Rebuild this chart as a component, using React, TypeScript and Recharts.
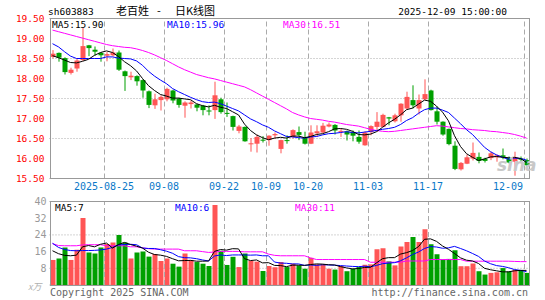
import React from "react";
import { ComposedChart, Bar, Line, XAxis, YAxis, CartesianGrid, ReferenceLine, Cell } from "recharts";

const dates = [
  "2025-08-12","2025-08-13","2025-08-14","2025-08-15","2025-08-18","2025-08-19","2025-08-20","2025-08-21","2025-08-22","2025-08-25",
  "2025-08-26","2025-08-27","2025-08-28","2025-08-29","2025-09-01","2025-09-02","2025-09-03","2025-09-04","2025-09-05","2025-09-08",
  "2025-09-09","2025-09-10","2025-09-11","2025-09-12","2025-09-15","2025-09-16","2025-09-17","2025-09-18","2025-09-19","2025-09-22",
  "2025-09-23","2025-09-24","2025-09-25","2025-09-26","2025-09-29","2025-09-30","2025-10-09","2025-10-10","2025-10-13","2025-10-14",
  "2025-10-15","2025-10-16","2025-10-17","2025-10-20","2025-10-21","2025-10-22","2025-10-23","2025-10-24","2025-10-27","2025-10-28",
  "2025-10-29","2025-10-30","2025-10-31","2025-11-03","2025-11-04","2025-11-05","2025-11-06","2025-11-07","2025-11-10","2025-11-11",
  "2025-11-12","2025-11-13","2025-11-14","2025-11-17","2025-11-18","2025-11-19","2025-11-20","2025-11-21","2025-11-24","2025-11-25",
  "2025-11-26","2025-11-27","2025-11-28","2025-12-01","2025-12-02","2025-12-03","2025-12-04","2025-12-05","2025-12-08","2025-12-09",
];

const openP = [
  18.54,18.64,18.51,18.14,18.25,18.46,18.83,18.72,18.64,18.57,
  18.58,18.65,18.18,18.03,18.06,17.96,17.68,17.33,17.46,17.48,
  17.70,17.50,17.32,17.36,17.35,17.32,17.20,17.21,17.48,17.14,
  17.06,16.69,16.79,16.36,16.37,16.47,16.46,16.58,16.24,16.46,
  16.54,16.66,16.53,16.37,16.63,16.65,16.80,16.84,16.67,16.68,
  16.66,16.54,16.33,16.66,16.79,16.79,17.03,16.93,17.08,17.25,
  17.46,17.25,17.48,17.70,17.18,16.92,16.74,16.32,15.73,15.87,
  16.00,16.04,15.99,16.01,16.03,16.08,16.01,15.92,16.00,15.96,
];
const highP = [
  18.71,18.65,18.53,18.27,18.50,19.27,18.84,18.80,18.66,18.66,
  18.75,18.70,18.20,18.17,18.08,17.98,17.70,17.62,17.58,17.77,
  17.72,17.52,17.43,17.45,17.37,17.34,17.33,17.92,17.52,17.40,
  17.07,16.84,16.80,16.51,16.60,16.56,16.58,16.65,16.47,16.58,
  16.73,16.80,16.67,16.83,16.83,16.89,16.90,16.86,16.75,16.70,
  16.70,16.70,16.68,16.83,17.16,17.12,17.04,17.12,17.38,17.67,
  17.83,17.60,17.98,17.72,17.30,16.93,16.75,16.43,15.91,16.10,
  16.40,16.15,16.02,16.17,16.10,16.25,16.05,16.17,16.05,16.00,
];
const lowP = [
  18.50,18.42,18.10,18.10,18.17,18.44,18.56,18.57,18.42,18.43,
  18.55,18.19,17.69,17.96,17.82,17.52,17.26,17.24,17.20,17.43,
  17.38,17.27,17.02,17.25,17.18,17.08,17.08,16.99,17.12,17.04,
  16.70,16.63,16.42,16.17,16.15,16.40,16.32,16.50,16.13,16.37,
  16.50,16.46,16.35,16.36,16.54,16.63,16.78,16.60,16.54,16.45,
  16.43,16.37,16.32,16.58,16.67,16.78,16.83,16.90,16.92,17.22,
  17.25,17.10,17.46,17.20,16.85,16.57,16.33,15.71,15.70,15.86,
  15.95,15.88,15.90,15.96,15.92,15.98,15.88,15.57,15.90,15.80,
];
const closeP = [
  18.62,18.52,18.16,18.22,18.45,18.81,18.76,18.67,18.58,18.61,
  18.65,18.22,18.06,18.07,17.93,17.70,17.34,17.48,17.54,17.74,
  17.45,17.34,17.40,17.40,17.27,17.21,17.18,17.58,17.16,17.12,
  16.79,16.80,16.43,16.38,16.54,16.45,16.57,16.61,16.46,16.45,
  16.71,16.59,16.37,16.65,16.68,16.82,16.85,16.70,16.69,16.60,
  16.57,16.42,16.65,16.81,16.92,17.09,17.00,17.08,17.37,17.54,
  17.33,17.46,17.61,17.21,16.92,16.60,16.36,15.74,15.89,16.03,
  16.14,15.94,15.94,16.13,16.08,16.04,15.90,16.02,15.97,15.83,
];

const ma5 = [
  18.57,18.52,18.46,18.40,18.39,18.43,18.48,18.58,18.65,18.69,
  18.65,18.55,18.42,18.32,18.19,18.00,17.82,17.70,17.60,17.56,
  17.51,17.51,17.49,17.47,17.37,17.32,17.29,17.33,17.28,17.25,
  17.17,17.09,16.86,16.70,16.59,16.52,16.47,16.51,16.53,16.51,
  16.56,16.56,16.52,16.55,16.60,16.62,16.67,16.74,16.75,16.73,
  16.68,16.60,16.59,16.61,16.67,16.78,16.89,16.98,17.09,17.22,
  17.26,17.36,17.46,17.43,17.31,17.16,16.94,16.57,16.30,16.12,
  16.03,15.95,15.99,16.04,16.05,16.03,16.02,16.03,16.00,15.90,
];
const ma10 = [
  18.87,18.79,18.67,18.56,18.50,18.50,18.50,18.50,18.50,18.54,
  18.54,18.51,18.50,18.49,18.44,18.33,18.18,18.06,17.96,17.87,
  17.75,17.67,17.60,17.53,17.47,17.42,17.40,17.41,17.37,17.31,
  17.25,17.19,17.09,16.99,16.92,16.84,16.78,16.69,16.62,16.55,
  16.54,16.52,16.51,16.54,16.55,16.59,16.62,16.63,16.65,16.67,
  16.65,16.64,16.66,16.68,16.70,16.73,16.75,16.78,16.85,16.95,
  17.02,17.13,17.22,17.26,17.26,17.21,17.15,17.01,16.87,16.72,
  16.60,16.44,16.28,16.17,16.09,16.03,15.98,16.01,16.00,15.96,
];
const ma30 = [
  19.21,19.17,19.13,19.09,19.05,19.01,18.97,18.93,18.89,18.85,
  18.82,18.80,18.78,18.77,18.74,18.70,18.65,18.59,18.52,18.45,
  18.37,18.29,18.22,18.16,18.10,18.06,18.02,17.99,17.95,17.91,
  17.87,17.83,17.79,17.72,17.64,17.56,17.48,17.40,17.32,17.24,
  17.15,17.09,17.04,17.00,16.98,16.96,16.93,16.91,16.88,16.85,
  16.83,16.81,16.77,16.73,16.70,16.68,16.67,16.68,16.70,16.72,
  16.74,16.76,16.78,16.80,16.82,16.81,16.79,16.77,16.75,16.74,
  16.72,16.71,16.70,16.68,16.67,16.65,16.63,16.60,16.56,16.51,
];

const volume = [
  12.0,12.7,18.0,12.0,16.9,32.1,15.6,15.1,18.0,19.6,
  20.3,24.0,20.3,12.7,15.6,16.1,13.6,14.8,11.5,12.7,
  10.2,8.8,15.1,12.0,11.0,10.2,9.1,38.3,16.4,9.6,
  13.5,8.6,15.1,11.5,11.2,6.7,9.1,8.5,11.0,8.6,
  10.2,9.4,7.8,13.0,9.9,9.9,7.8,7.4,9.1,6.6,
  7.8,8.6,9.7,9.9,17.1,17.6,11.3,9.4,18.4,20.6,
  23.0,20.6,26.7,19.5,14.7,12.2,12.5,16.6,9.0,9.0,
  10.3,6.6,5.0,5.8,6.1,8.1,6.5,7.3,7.2,5.8,
];
const volMa5 = [
  16.4,15.0,14.2,14.0,14.3,18.3,18.9,18.3,19.5,20.1,
  17.7,19.4,20.4,19.4,18.6,17.7,15.7,14.6,14.3,13.7,
  12.6,11.6,11.7,11.8,11.4,11.4,11.5,16.1,17.0,16.7,
  17.4,17.3,12.6,11.7,12.0,10.6,10.7,9.4,9.3,8.8,
  9.5,9.5,9.4,9.8,10.1,10.0,9.7,9.6,8.8,8.2,
  7.7,7.9,8.4,8.5,10.6,12.6,13.1,13.1,14.8,15.5,
  16.5,18.4,21.9,22.1,20.9,18.7,17.1,15.1,13.0,11.9,
  11.5,10.3,8.0,7.3,6.8,6.3,6.3,6.8,7.0,7.0,
];
const volMa10 = [
  20.0,18.0,17.0,16.5,16.4,16.5,16.5,16.6,16.8,17.2,
  18.0,19.2,19.4,19.5,19.3,17.7,17.5,17.5,16.9,16.2,
  15.2,13.6,13.1,13.0,12.6,12.0,11.5,13.9,14.4,14.1,
  14.4,14.4,14.4,14.3,14.4,14.0,14.0,11.0,10.5,10.4,
  10.1,10.1,9.4,9.6,9.4,9.7,9.6,9.5,9.3,9.1,
  8.9,8.8,9.0,8.7,9.4,10.2,10.5,10.7,11.6,13.0,
  14.6,15.8,17.5,18.4,18.2,17.6,17.8,18.5,17.5,16.4,
  15.1,13.7,11.5,10.2,9.3,8.9,8.3,7.4,7.0,6.4,
];
const volMa30 = [
  19.8,18.9,18.8,18.8,18.8,19.2,19.3,19.3,19.3,18.8,
  18.8,18.8,18.8,18.3,18.3,17.8,17.4,17.2,17.2,17.2,
  17.2,17.2,16.4,16.4,16.4,16.0,15.6,15.8,16.1,16.1,
  16.1,16.1,15.9,15.9,15.9,15.9,14.8,14.2,14.0,14.0,
  14.0,14.0,14.0,13.0,12.2,12.2,12.2,12.2,12.2,12.2,
  12.2,12.2,12.2,10.9,10.9,10.9,10.9,10.9,10.9,11.5,
  11.5,11.5,11.5,12.2,12.2,12.2,12.2,12.2,12.2,11.4,
  11.4,11.4,11.4,11.4,11.4,11.4,11.4,11.3,11.2,11.2,
];

const dateTicks = ["2025-08-25","2025-09-08","2025-09-22","2025-10-09","2025-10-20","2025-11-03","2025-11-17","2025-12-09"];
const dateTickLabels = ["2025-08-25","09-08","09-22","10-09","10-20","11-03","11-17","12-09"];
const priceTicks = [15.5, 16, 16.5, 17, 17.5, 18, 18.5, 19, 19.5];
const volTicks = [0, 8, 16, 24, 32, 40];

const RED = "#ff5555";
const GREEN = "#00a000";
const MONO = "'DejaVu Sans Mono', 'Liberation Mono', monospace";

const data = dates.map((d, i) => ({
  date: d,
  open: openP[i],
  high: highP[i],
  low: lowP[i],
  close: closeP[i],
  ma5: ma5[i],
  ma10: ma10[i],
  ma30: ma30[i],
  vol: volume[i],
  vma5: volMa5[i],
  vma10: volMa10[i],
  vma30: volMa30[i],
}));

const Candle = (props: any) => {
  const { x, y, width, height, payload } = props;
  if (x == null || !payload) return <g />;
  const top = Math.min(y, y + height);
  const h = Math.abs(height);
  const { open, close, high, low } = payload;
  const up = close >= open;
  const color = up ? RED : GREEN;
  const ratio = high - low > 0 ? h / (high - low) : 0;
  const bTop = top + (high - Math.max(open, close)) * ratio;
  const bBot = top + (high - Math.min(open, close)) * ratio;
  const cx = x + width / 2;
  return (
    <g>
      <rect x={cx - 0.5} y={top} width={1} height={Math.max(1, h)} fill={color} />
      <rect x={x} y={bTop} width={width} height={Math.max(1, bBot - bTop)} fill={color} />
    </g>
  );
};

const VLine = (props: any) => {
  const { x1, y1, x2, y2 } = props;
  if (x1 == null) return <g />;
  return <line x1={x1 - 2} y1={y1} x2={x2 - 2} y2={y2} stroke="#aaaaaa" strokeWidth={1} strokeDasharray="5 3" />;
};

const DateTick = (props: any) => {
  const { x, y, payload } = props;
  const idx = dateTicks.indexOf(payload.value);
  const label = idx >= 0 ? dateTickLabels[idx] : payload.value;
  const last = idx === dateTicks.length - 1;
  return (
    <text
      x={last ? x - 3.5 : x - 2.5}
      y={y + 11.5}
      textAnchor={last ? "end" : "middle"}
      fill="#0a78c8"
      fontSize={10}
      fontFamily={MONO}
    >
      {label}
    </text>
  );
};

export default function App() {
  const W = 545;
  const H = 300;
  const last = data.length - 1;
  return (
    <div style={{ position: "absolute", left: 0, top: 0, width: W, height: H, background: "#fff", overflow: "hidden" }}>
      <div style={{ position: "absolute", left: 0, top: 0 }}>
        <ComposedChart width={W} height={H} data={data} margin={{ top: 18.5, right: 15.5, bottom: 99.5, left: 0 }}>
          <CartesianGrid vertical={false} stroke="#aaaaaa" strokeDasharray="1 2" />
          <XAxis
            dataKey="date"
            type="category"
            ticks={dateTicks}
            interval={0}
            tickLine={false}
            axisLine={false}
            tickSize={0}
            tickMargin={0}
            height={22}
            tick={<DateTick />}
          />
          <YAxis
            domain={[15.5, 19.5]}
            ticks={priceTicks}
            allowDataOverflow
            width={49.5}
            tickLine={false}
            axisLine={false}
            tickSize={0}
            tickMargin={5}
            tickFormatter={(v: number) => v.toFixed(2)}
            tick={{ fill: "#ff0000", fontSize: 9.5, fontFamily: MONO }}
          />
          {dateTicks.map((d) => (
            <ReferenceLine key={d} x={d} shape={<VLine />} />
          ))}
          <Bar dataKey={(d: any) => [d.low, d.high]} barSize={5} shape={<Candle />} isAnimationActive={false} />
          <Line type="linear" dataKey="ma30" stroke="#ff00ff" strokeWidth={1} dot={false} isAnimationActive={false} />
          <Line type="linear" dataKey="ma10" stroke="#0000ff" strokeWidth={1} dot={false} isAnimationActive={false} />
          <Line type="linear" dataKey="ma5" stroke="#000000" strokeWidth={1} dot={false} isAnimationActive={false} />
        </ComposedChart>
      </div>
      <div style={{ position: "absolute", left: 0, top: 0 }}>
        <ComposedChart width={W} height={H} data={data} margin={{ top: 201.5, right: 15.5, bottom: 15, left: 0 }}>
          <CartesianGrid vertical={false} stroke="#aaaaaa" strokeDasharray="1 2" />
          <XAxis dataKey="date" type="category" hide />
          <YAxis
            domain={[0, 40]}
            ticks={volTicks}
            allowDataOverflow
            width={49.5}
            tickLine={false}
            axisLine={false}
            tickSize={0}
            tickMargin={3}
            tickFormatter={(v: number) => (v === 0 ? "" : String(v))}
            tick={{ fill: "#999999", fontSize: 10, fontFamily: MONO }}
          />
          {dateTicks.map((d) => (
            <ReferenceLine key={d} x={d} shape={<VLine />} />
          ))}
          <Bar dataKey="vol" barSize={5} isAnimationActive={false}>
            {data.map((d, i) => (
              <Cell key={i} fill={d.close >= d.open ? RED : GREEN} />
            ))}
          </Bar>
          <Line type="linear" dataKey="vma30" stroke="#ff00ff" strokeWidth={1} dot={false} isAnimationActive={false} />
          <Line type="linear" dataKey="vma10" stroke="#0000ff" strokeWidth={1} dot={false} isAnimationActive={false} />
          <Line type="linear" dataKey="vma5" stroke="#000000" strokeWidth={1} dot={false} isAnimationActive={false} />
        </ComposedChart>
      </div>
      <svg width={W} height={H} style={{ position: "absolute", left: 0, top: 0, pointerEvents: "none" }}>
        <rect x={50.5} y={18.5} width={479} height={160} fill="none" stroke="#999999" strokeWidth={1} />
        <rect x={50.5} y={201.5} width={479} height={84} fill="none" stroke="#999999" strokeWidth={1} />
        <text x={48} y={15} fontSize={9.5} fontFamily={MONO} fill="#000">sh603883</text>
        <text y={15} fontSize={11} fontFamily="'Noto Sans CJK SC', sans-serif" fill="#000">
          <tspan x={116}>老百姓</tspan>
          <tspan x={157}>-</tspan>
          <tspan x={175}>日K线图</tspan>
        </text>
        <text x={507} y={15} fontSize={9.5} fontFamily={MONO} fill="#000" textAnchor="end">2025-12-09 15:00:00</text>
        <text x={52} y={27.5} fontSize={9.5} fontFamily={MONO} fill="#000">{`MA5:${ma5[last].toFixed(2)}`}</text>
        <text x={167} y={27.5} fontSize={9.5} fontFamily={MONO} fill="#0000ff">{`MA10:${ma10[last].toFixed(2)}`}</text>
        <text x={283} y={27.5} fontSize={9.5} fontFamily={MONO} fill="#ff00ff">{`MA30:${ma30[last].toFixed(2)}`}</text>
        <text x={55} y={210.5} fontSize={9.5} fontFamily={MONO} fill="#000">{`MA5:${Math.round(volMa5[last])}`}</text>
        <text x={175} y={210.5} fontSize={9.5} fontFamily={MONO} fill="#0000ff">{`MA10:${Math.floor(volMa10[last])}`}</text>
        <text x={295} y={210.5} fontSize={9.5} fontFamily={MONO} fill="#ff00ff">{`MA30:${Math.round(volMa30[last])}`}</text>
        <text x={497} y={171} fontSize={17} fontStyle="italic" fontWeight="bold" fontFamily="'DejaVu Sans', sans-serif" fill="#c8c8c8">sina</text>
        <text x={28} y={290} fontSize={9} fontStyle="italic" fontFamily="'Noto Sans CJK SC', sans-serif" fill="#b0b0b0">x万</text>
        <text x={50} y={296} fontSize={10} fontFamily={MONO} fill="#666666">Copyright 2025 SINA.COM</text>
        <text x={528} y={296} fontSize={10} fontFamily={MONO} fill="#666666" textAnchor="end">http://finance.sina.com.cn</text>
      </svg>
    </div>
  );
}
